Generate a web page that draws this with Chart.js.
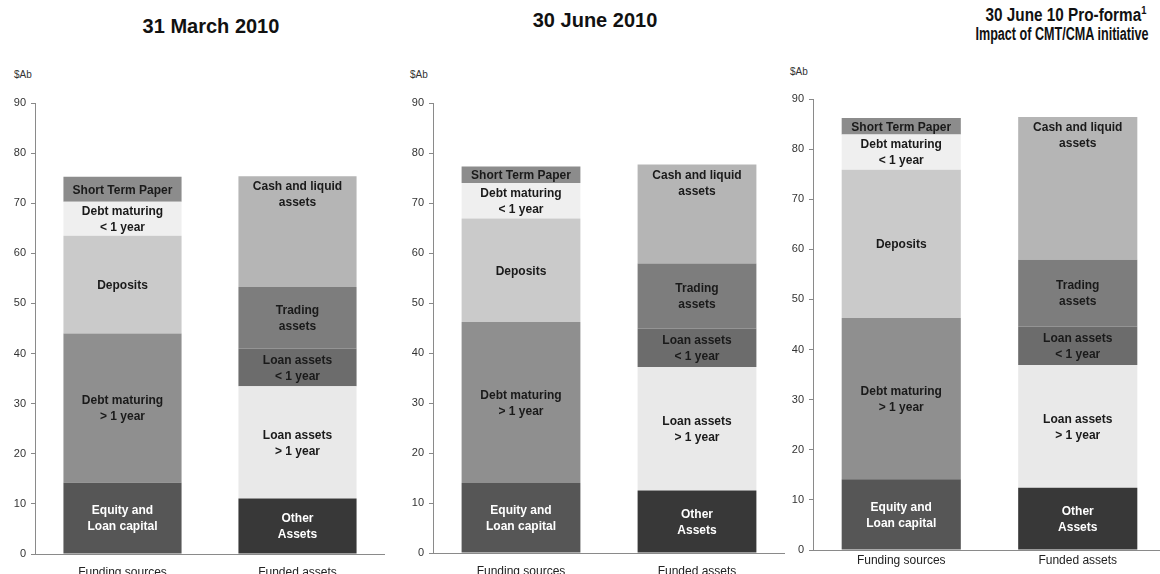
<!DOCTYPE html>
<html>
<head>
<meta charset="utf-8">
<script src="https://cdn.jsdelivr.net/npm/chart.js@4/dist/chart.umd.min.js"></script>
<style>
    body { margin: 0; width: 1160px; height: 574px; overflow: hidden; background: #fff; position: relative; font-family: "Liberation Sans", Arial, sans-serif; }
    .title { position: absolute; font-weight: bold; font-size: 20px; color: #111; text-align: center; line-height: 22px; white-space: nowrap; }
    .title.narrow { font-size: 18px; line-height: 20px; transform-origin: center top; }
    .title sup { font-size: 11px; vertical-align: 7px; line-height: 0; }
    .unit { position: absolute; font-size: 10px; color: #333; }
    .panel { position: absolute; }
</style>
</head>
<body>
<div class="title" style="left:111px; top:15px; width:200px;">31 March 2010</div>
<div class="title" style="left:495px; top:9px; width:200px;">30 June 2010</div>
<div class="title narrow" style="left:916px; top:5px; width:300px; transform:scaleX(0.85);">30 June 10 Pro-forma<sup>1</sup></div>
<div class="title narrow" style="left:912px; top:24px; width:300px; transform:scaleX(0.7);">Impact of CMT/CMA initiative</div>
<div class="unit" style="left:14px; top:69px;">$Ab</div>
<div class="unit" style="left:410px; top:69px;">$Ab</div>
<div class="unit" style="left:790px; top:66px;">$Ab</div>

<div class="panel" style="left:0px; top:90px; width:385px; height:484px;"><canvas id="chart1"></canvas></div>
<div class="panel" style="left:398px; top:90px; width:387px; height:484px;"><canvas id="chart2"></canvas></div>
<div class="panel" style="left:778px; top:86px; width:388px; height:488px;"><canvas id="chart3"></canvas></div>

<script>
// Data ($A billions)
const categories = ['Funding sources', 'Funded assets'];
const yTicks = [0, 10, 20, 30, 40, 50, 60, 70, 80, 90];

// bottom to top
const fundingNames = ['Equity and\nLoan capital', 'Debt maturing\n> 1 year', 'Deposits', 'Debt maturing\n< 1 year', 'Short Term Paper'];
const assetNames = ['Other\nAssets', 'Loan assets\n> 1 year', 'Loan assets\n< 1 year', 'Trading\nassets', 'Cash and liquid\nassets'];

const mar10Funding = [14.2, 29.8, 19.5, 6.8, 5.0];
const mar10Assets = [11.1, 22.4, 7.5, 12.3, 22.1];
const jun10Funding = [14.0, 32.2, 20.7, 7.1, 3.3];
const jun10Assets = [12.5, 24.7, 7.7, 13.0, 19.8];
const proFunding = [14.1, 32.2, 29.6, 7.0, 3.3];
const proAssets = [12.4, 24.5, 7.7, 13.3, 28.5];

const fundingColors = ['#565656', '#8f8f8f', '#cacaca', '#efefef', '#8c8c8c'];
const assetColors = ['#383838', '#e9e9e9', '#6c6c6c', '#7d7d7d', '#b5b5b5'];
const fundingText = ['#ffffff', '#1a1a1a', '#1a1a1a', '#1a1a1a', '#1a1a1a'];
const assetText = ['#ffffff', '#1a1a1a', '#1a1a1a', '#1a1a1a', '#1a1a1a'];

// writes the segment names inside the bars
const segmentLabels = {
    id: 'segmentLabels',
    afterDatasetsDraw(chart) {
        const ctx = chart.ctx;
        ctx.save();
        ctx.font = 'bold 12px "Liberation Sans", Arial, sans-serif';
        ctx.textAlign = 'center';
        ctx.textBaseline = 'middle';
        chart.data.datasets.forEach((ds, i) => {
            const meta = chart.getDatasetMeta(i);
            meta.data.forEach((bar, j) => {
                if (ds.data[j] == null) return;
                const lines = ds.name.split('\n');
                const lh = 16;
                let cy = (bar.y + bar.base) / 2;
                if (ds.labelTop) cy = bar.y + 10 + (lines.length - 1) * lh / 2;
                ctx.fillStyle = ds.textColor;
                lines.forEach((l, k) => {
                    ctx.fillText(l, bar.x, cy + (k - (lines.length - 1) / 2) * lh + 1);
                });
            });
        });
        ctx.restore();
    }
};

function buildDatasets(funding, assets) {
    const sets = [];
    funding.forEach((v, i) => {
        sets.push({
            name: fundingNames[i],
            data: [v, null],
            backgroundColor: fundingColors[i],
            textColor: fundingText[i],
            stack: 's'
        });
    });
    assets.forEach((v, i) => {
        sets.push({
            name: assetNames[i],
            data: [null, v],
            backgroundColor: assetColors[i],
            textColor: assetText[i],
            labelTop: i === 4,
            stack: 's'
        });
    });
    return sets;
}

function makeChart(id, funding, assets, padTop, xHeight, labelPad) {
    const ctx = document.getElementById(id).getContext('2d');
    return new Chart(ctx, {
        type: 'bar',
        data: {
            labels: categories,
            datasets: buildDatasets(funding, assets)
        },
        options: {
            responsive: true,
            maintainAspectRatio: false,
            animation: false,
            layout: { padding: { top: padTop, left: 0, right: 0, bottom: 0 } },
            datasets: {
                bar: { categoryPercentage: 1, barPercentage: 0.675, borderWidth: 0 }
            },
            plugins: {
                legend: { display: false },
                tooltip: { enabled: false }
            },
            scales: {
                x: {
                    stacked: true,
                    grid: { display: false },
                    border: { display: true, color: '#8a8a8a', width: 1 },
                    ticks: {
                        color: '#222',
                        padding: labelPad,
                        font: { family: '"Liberation Sans", Arial, sans-serif', size: 12 }
                    },
                    afterFit: s => { s.height = xHeight; }
                },
                y: {
                    stacked: true,
                    min: 0,
                    max: 90,
                    afterBuildTicks: s => { s.ticks = yTicks.map(v => ({ value: v })); },
                    grid: { drawOnChartArea: false, tickLength: 4, color: '#888' },
                    border: { display: true, color: '#8a8a8a', width: 1 },
                    ticks: {
                        color: '#333',
                        padding: 5,
                        font: { family: '"Liberation Sans", Arial, sans-serif', size: 11 }
                    },
                    afterFit: s => { s.width = 35; }
                }
            }
        },
        plugins: [segmentLabels]
    });
}

document.addEventListener('DOMContentLoaded', function() {
    makeChart('chart1', mar10Funding, mar10Assets, 13, 20, 3);
    makeChart('chart2', jun10Funding, jun10Assets, 13, 21, 3);
    makeChart('chart3', proFunding, proAssets, 13, 24, -5);
});
</script>
</body>
</html>
